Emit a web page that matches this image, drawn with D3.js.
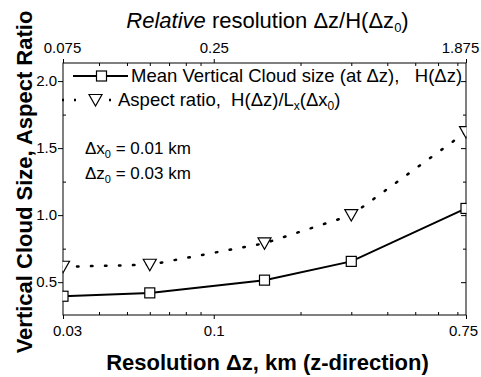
<!DOCTYPE html>
<html>
<head>
<meta charset="utf-8">
<script src="https://cdn.jsdelivr.net/npm/d3@7"></script>
<style>
  body { margin: 0; background: #fff; }
  svg text { font-family: Arial, "Liberation Sans", sans-serif; fill: #000; }
</style>
</head>
<body>
<svg id="chart" width="481" height="377"></svg>
<script>
// data
let resolution = [0.03, 0.06, 0.15, 0.3, 0.75];
let cloudHeight = [0.395, 0.42, 0.515, 0.655, 1.05];
let aspectRatio = [0.615, 0.63, 0.79, 1.0, 1.62];

let bottomMajor = [0.03, 0.1, 0.75];
let bottomMinor = [0.04, 0.05, 0.06, 0.07, 0.08, 0.09, 0.2, 0.3, 0.4, 0.5, 0.6, 0.7];
let topLabels = ["0.075", "0.25", "1.875"];
let leftMajor = [0.5, 1.0, 1.5, 2.0];
let leftMinor = [0.75, 1.25, 1.75];

let svg = d3.select("#chart");
let x0 = 63, x1 = 466, y0 = 63, y1 = 315;

let xScale = d3.scaleLog().domain([0.03, 0.75]).range([x0, x1]);
let yScale = d3.scaleLinear().domain([0.255, 2.135]).range([y1, y0]);

// frame
svg.append("rect")
  .attr("x", x0).attr("y", y0)
  .attr("width", x1 - x0).attr("height", y1 - y0)
  .attr("fill", "none").attr("stroke", "#000").attr("stroke-width", 1);

let noDomain = g => g.select(".domain").remove();

// bottom axis
svg.append("g").attr("transform", `translate(0,${y1})`)
  .call(d3.axisBottom(xScale).tickValues(bottomMajor).tickSize(4).tickPadding(6)
    .tickFormat(d => d3.format("")(d)))
  .call(noDomain)
  .call(g => g.selectAll("text").attr("font-size", 15)
    .attr("dx", (d, i) => [4, 0, -3][i]));
svg.append("g").attr("transform", `translate(0,${y1})`)
  .call(d3.axisBottom(xScale).tickValues(bottomMinor).tickSize(-3).tickFormat(""))
  .call(noDomain);

// top axis (relative resolution)
svg.append("g").attr("transform", `translate(0,${y0})`)
  .call(d3.axisTop(xScale).tickValues(bottomMajor).tickSize(4).tickPadding(6)
    .tickFormat((d, i) => topLabels[i]))
  .call(noDomain)
  .call(g => g.selectAll("text").attr("font-size", 15)
    .attr("dx", (d, i) => [-1, 0, -6][i]));
svg.append("g").attr("transform", `translate(0,${y0})`)
  .call(d3.axisTop(xScale).tickValues(bottomMinor).tickSize(-3).tickFormat(""))
  .call(noDomain);

// left axis
svg.append("g").attr("transform", `translate(${x0},0)`)
  .call(d3.axisLeft(yScale).tickValues(leftMajor).tickSize(5).tickPadding(1)
    .tickFormat(d3.format(".1f")))
  .call(noDomain)
  .call(g => g.selectAll("text").attr("font-size", 15));
svg.append("g").attr("transform", `translate(${x0},0)`)
  .call(d3.axisLeft(yScale).tickValues(leftMinor).tickSize(-3).tickFormat(""))
  .call(noDomain);

// right axis
svg.append("g").attr("transform", `translate(${x1},0)`)
  .call(d3.axisRight(yScale).tickValues(leftMajor).tickSize(-5).tickFormat(""))
  .call(noDomain);
svg.append("g").attr("transform", `translate(${x1},0)`)
  .call(d3.axisRight(yScale).tickValues(leftMinor).tickSize(-3).tickFormat(""))
  .call(noDomain);

// clip for data, markers at the edges get cut in half
svg.append("clipPath").attr("id", "plotClip")
  .append("rect").attr("x", x0 - 0.5).attr("y", y0 - 0.5)
  .attr("width", x1 - x0 + 1).attr("height", y1 - y0 + 1);

let dataLayer = svg.append("g").attr("clip-path", "url(#plotClip)");

let line = d3.line().x(d => xScale(d[0])).y(d => yScale(d[1]));
let hPts = resolution.map((r, i) => [r, cloudHeight[i]]);
let aPts = resolution.map((r, i) => [r, aspectRatio[i]]);

dataLayer.append("path").datum(aPts)
  .attr("d", line).attr("fill", "none").attr("stroke", "#000")
  .attr("stroke-width", 2.5).attr("stroke-linecap", "round")
  .attr("stroke-dasharray", "1.5 12.5");
dataLayer.append("path").datum(hPts)
  .attr("d", line).attr("fill", "none").attr("stroke", "#000")
  .attr("stroke-width", 2);

let tri = (cx, cy) => `M${cx - 6.5},${cy - 5.5}L${cx + 6.5},${cy - 5.5}L${cx},${cy + 6}Z`;

dataLayer.selectAll(".tri").data(aPts).enter().append("path")
  .attr("class", "tri")
  .attr("d", d => tri(xScale(d[0]), yScale(d[1])))
  .attr("fill", "#fff").attr("stroke", "#000").attr("stroke-width", 1.2);

dataLayer.selectAll(".sq").data(hPts).enter().append("rect")
  .attr("class", "sq")
  .attr("x", d => xScale(d[0]) - 5).attr("y", d => yScale(d[1]) - 5)
  .attr("width", 10).attr("height", 10)
  .attr("fill", "#fff").attr("stroke", "#000").attr("stroke-width", 1.2);

// legend
let leg = svg.append("g");
leg.append("line").attr("x1", 73).attr("x2", 128).attr("y1", 76).attr("y2", 76)
  .attr("stroke", "#000").attr("stroke-width", 2);
leg.append("rect").attr("x", 96.5).attr("y", 71).attr("width", 10).attr("height", 10)
  .attr("fill", "#fff").attr("stroke", "#000").attr("stroke-width", 1.2);
let t1 = leg.append("text").attr("x", 131).attr("y", 82).attr("font-size", 18.5);
t1.append("tspan").text("Mean Vertical Cloud size (at \u0394z),\u00a0\u00a0 H(\u0394z)");

leg.selectAll(".ldot").data([63, 75, 110]).enter().append("line")
  .attr("x1", d => d - 1).attr("x2", d => d + 1).attr("y1", 100).attr("y2", 100)
  .attr("stroke", "#000").attr("stroke-width", 2.5);
leg.append("path").attr("d", tri(95.5, 100))
  .attr("fill", "#fff").attr("stroke", "#000").attr("stroke-width", 1.2);
let t2 = leg.append("text").attr("x", 118).attr("y", 106).attr("font-size", 18.5);
t2.append("tspan").text("Aspect ratio,\u00a0 H(\u0394z)/L");
t2.append("tspan").attr("font-size", 12).attr("dy", 4).text("x");
t2.append("tspan").attr("dy", -4).text("(\u0394x");
t2.append("tspan").attr("font-size", 12).attr("dy", 4).text("0");
t2.append("tspan").attr("dy", -4).text(")");

// resolution notes
let notes = [["\u0394x", "0", " = 0.01 km", 154], ["\u0394z", "0", " = 0.03 km", 179]];
notes.forEach(n => {
  let t = svg.append("text").attr("x", 85).attr("y", n[3]).attr("font-size", 17);
  t.append("tspan").text(n[0]);
  t.append("tspan").attr("font-size", 11).attr("dy", 4).text(n[1]);
  t.append("tspan").attr("dy", -4).text(n[2]);
});

// titles
let title = svg.append("text").attr("x", (x0 + x1) / 2 + 3).attr("y", 28)
  .attr("text-anchor", "middle").attr("font-size", 22);
title.append("tspan").attr("font-style", "italic").text("Relative");
title.append("tspan").text(" resolution \u0394z/H(\u0394z");
title.append("tspan").attr("font-size", 13).attr("dy", 4).text("0");
title.append("tspan").attr("dy", -4).text(")");

svg.append("text").attr("x", (x0 + x1) / 2 + 3).attr("y", 370)
  .attr("text-anchor", "middle").attr("font-size", 22).attr("font-weight", "bold")
  .text("Resolution \u0394z, km (z-direction)");

svg.append("text").attr("transform", `translate(32,182) rotate(-90)`)
  .attr("text-anchor", "middle").attr("font-size", 22).attr("font-weight", "bold")
  .text("Vertical Cloud Size, Aspect Ratio");
</script>
</body>
</html>
